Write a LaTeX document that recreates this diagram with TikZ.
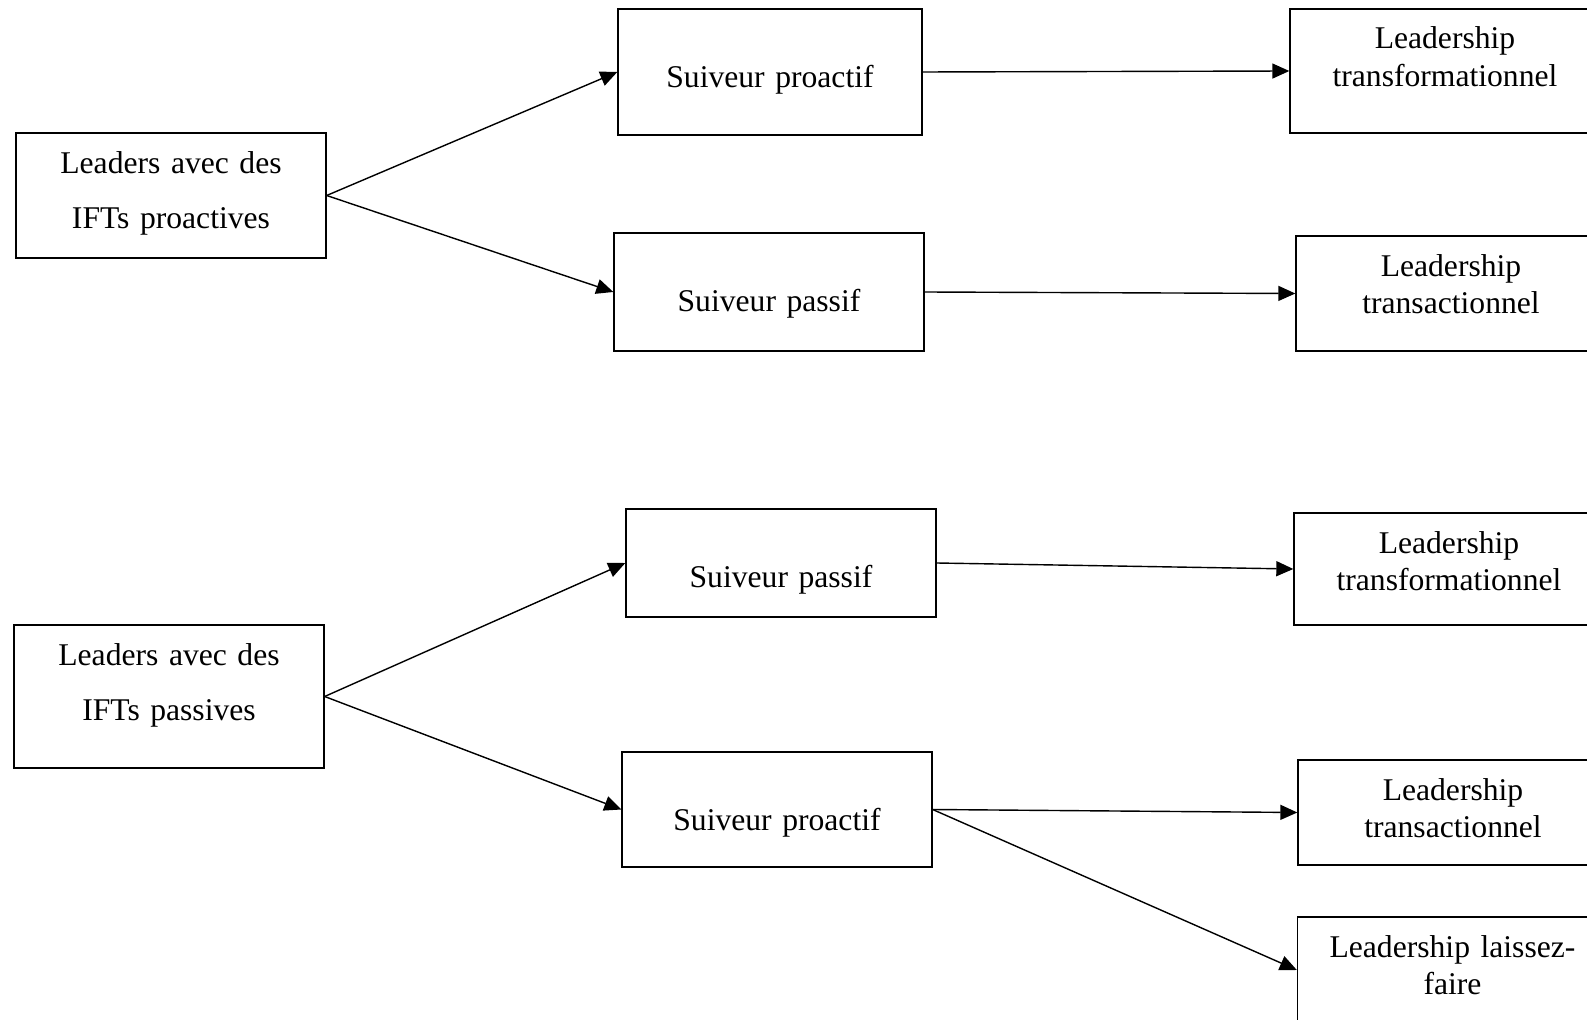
\documentclass[tikz,border=0pt]{standalone}
\usepackage{fontspec}
\setmainfont{Liberation Serif}
\usetikzlibrary{arrows.meta}
\begin{document}
\begin{tikzpicture}[x=0.02cm,y=-0.02cm,
  cadre/.style={draw,line width=0.8pt,inner sep=0pt,text width=6.2cm,align=center,
    font=\fontsize{18}{21.3}\selectfont},
  large/.style={font=\fontsize{18}{31.8}\selectfont},
  haut/.style={text height=0.8cm,text depth=#1},
  seul/.style={text height=1.58cm,text depth=#1},
  fleche/.style={line width=0.8pt,-{Triangle[length=0.34cm,width=0.3cm]}}]
\useasboundingbox (0,0) rectangle (1587,1020);
\clip (0,0) rectangle (1587,1020);
\node[cadre,large,haut=1.7cm] (l1) at (171,195.5) {Leaders avec des\\IFTs proactives};
\node[cadre,seul=0.94cm,text width=6.08cm] (sp1) at (770,72) {Suiveur proactif};
\node[cadre,seul=0.78cm] (spa1) at (769,292) {Suiveur passif};
\node[cadre,haut=1.68cm] (tt1) at (1445,71) {Leadership\\transformationnel};
\node[cadre,haut=1.5cm] (tc1) at (1451,293.5) {Leadership\\transactionnel};
\draw[fleche] (l1.east) -- (sp1.west);
\draw[fleche] (l1.east) -- (spa1.west);
\draw[fleche] (sp1.east) -- (tt1.west);
\draw[fleche] (spa1.east) -- (tc1.west);
\node[cadre,large,haut=2.06cm] (l2) at (169,696.5) {Leaders avec des\\IFTs passives};
\node[cadre,seul=0.58cm] (spa2) at (781,563) {Suiveur passif};
\node[cadre,seul=0.72cm] (spr2) at (777,809.5) {Suiveur proactif};
\node[cadre,haut=1.44cm] (tt2) at (1449,569) {Leadership\\transformationnel};
\node[cadre,haut=1.3cm] (tc2) at (1453,812.5) {Leadership\\transactionnel};
\node[cadre,haut=1.32cm] (lf) at (1452.5,970) {Leadership laissez-\\faire};
\draw[fleche] (l2.east) -- (spa2.west);
\draw[fleche] (l2.east) -- (spr2.west);
\draw[fleche] (spa2.east) -- (tt2.west);
\draw[fleche] (spr2.east) -- (tc2.west);
\draw[fleche] (spr2.east) -- (lf.west);
\end{tikzpicture}
\end{document}
